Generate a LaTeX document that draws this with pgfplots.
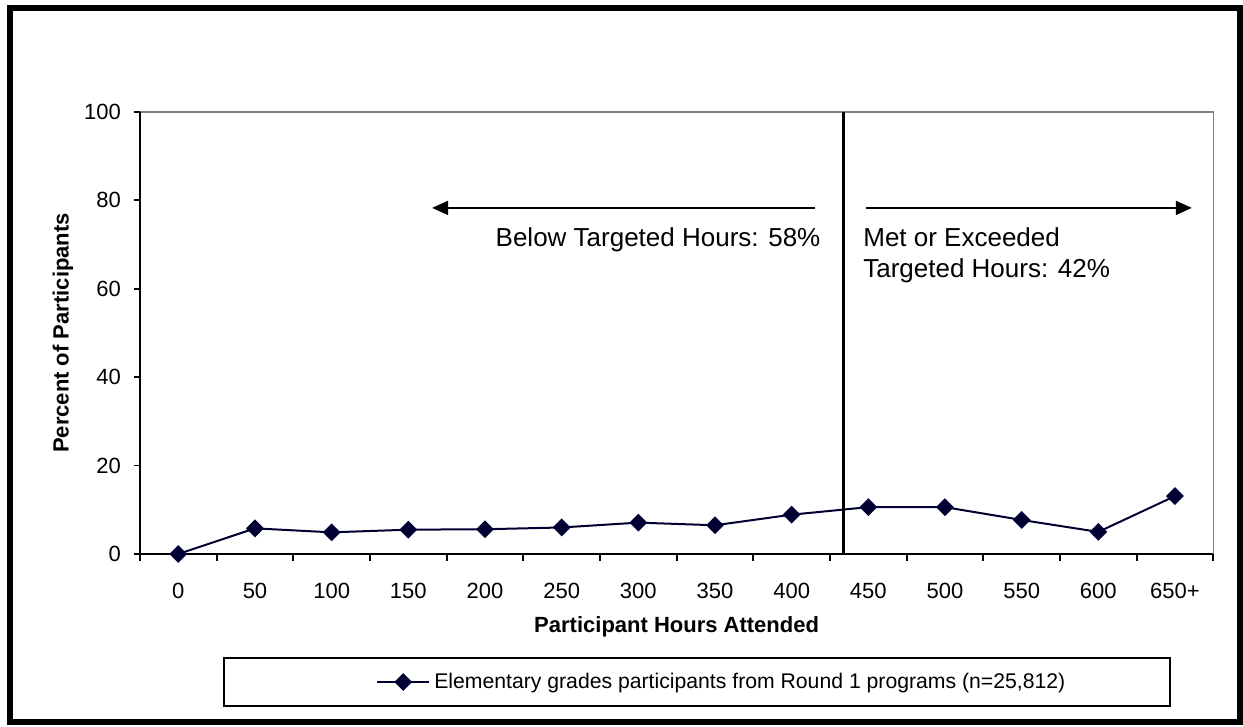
\documentclass[border=0pt]{standalone}
\usepackage{fontspec}
\setmainfont{Liberation Sans}
\usepackage{pgfplots}
\pgfplotsset{compat=1.18}
\usetikzlibrary{arrows.meta}
\definecolor{navy}{RGB}{0,0,51}

\begin{document}
\begin{tikzpicture}
  % page size: 1 px of the reference = 0.5pt
  \path[use as bounding box] (-70pt,-86.5pt) rectangle (551.5pt,277pt);
  \draw[line width=3pt] (-65pt,-84pt) rectangle (550pt,273pt);
  \begin{axis}[
    scale only axis,
    width=536.65pt, height=221pt,
    xmin=-0.5, xmax=13.5,
    ymin=0, ymax=100,
    axis line style={draw=none},
    xtick={0,...,13},
    xticklabels={0,50,100,150,200,250,300,350,400,450,500,550,600,650+},
    major x tick style={draw=none},
    minor xtick={-0.5,0.5,...,13.5},
    ytick={0,20,...,100},
    xtick pos=bottom, ytick pos=left,
    tick align=outside,
    major tick length=3pt, minor tick length=3.5pt,
    every tick/.style={black, line width=0.9pt},
    ticklabel style={font=\fontsize{11}{13}\selectfont},
    /pgf/number format/assume math mode=true,
    xticklabel style={anchor=center, yshift=-15.5pt},
    yticklabel style={anchor=east, xshift=-3pt},
    xlabel={Participant Hours Attended},
    ylabel={Percent of Participants},
    every axis x label/.style={at={(axis description cs:0.5,-0.165)}, anchor=center,
      font=\fontsize{11}{13}\selectfont\bfseries},
    every axis y label/.style={at={(axis description cs:-0.0717,0.5)}, anchor=center, rotate=90,
      font=\fontsize{11}{13}\selectfont\bfseries},
    legend style={draw=none, fill=none, at={(rel axis cs:0.543,-0.2896)}, anchor=center,
      font=\fontsize{10.6}{12}\selectfont, inner sep=1pt},
    legend image code/.code={%
      \draw[#1, mark repeat=2, mark phase=2] plot coordinates {(0pt,0pt) (13pt,0pt) (26pt,0pt)};},
    legend cell align=left,
    clip=false,
  ]
    \draw[gray, line width=0.75pt] (rel axis cs:0,1) -- (rel axis cs:1,1) -- (rel axis cs:1,0);
    \draw[black, line width=0.6pt] (rel axis cs:0.0783,-0.2353) rectangle (rel axis cs:0.9597,-0.3439);

    \addplot[navy, line width=1pt, mark=square*, mark size=2.65pt,
      mark options={rotate=45, fill=navy, draw=navy}] table[x=id, y=pct] {
      id  pct
      0   0.0
      1   5.8
      2   4.9
      3   5.5
      4   5.6
      5   6.0
      6   7.1
      7   6.5
      8   8.9
      9   10.6
      10  10.6
      11  7.7
      12  5.0
      13  13.1
    };
    \addlegendentry{Elementary grades participants from Round 1 programs (n=25,812)}

    \draw[black, line width=1.5pt] (axis cs:8.67,0) -- (axis cs:8.67,100);
    \draw[black, line width=1.2pt] (rel axis cs:0,1) -- (rel axis cs:0,0) -- (rel axis cs:1,0);

    \draw[line width=1pt, -{Triangle[length=8pt, width=7pt]}] (axis cs:8.31,78.3) -- (axis cs:3.31,78.3);
    \draw[line width=1pt, -{Triangle[length=8pt, width=7pt]}] (axis cs:8.97,78.3) -- (axis cs:13.22,78.3);
    \node[anchor=east, inner sep=0pt, font=\fontsize{13}{15}\selectfont]
      at (axis cs:8.38,71.0) {Below Targeted Hours: 58\%};
    \node[anchor=north west, inner sep=0pt, align=left, font=\fontsize{13}{15.5}\selectfont]
      at (axis cs:8.93,73.9) {Met or Exceeded\\Targeted Hours: 42\%};
  \end{axis}
\end{tikzpicture}
\end{document}
